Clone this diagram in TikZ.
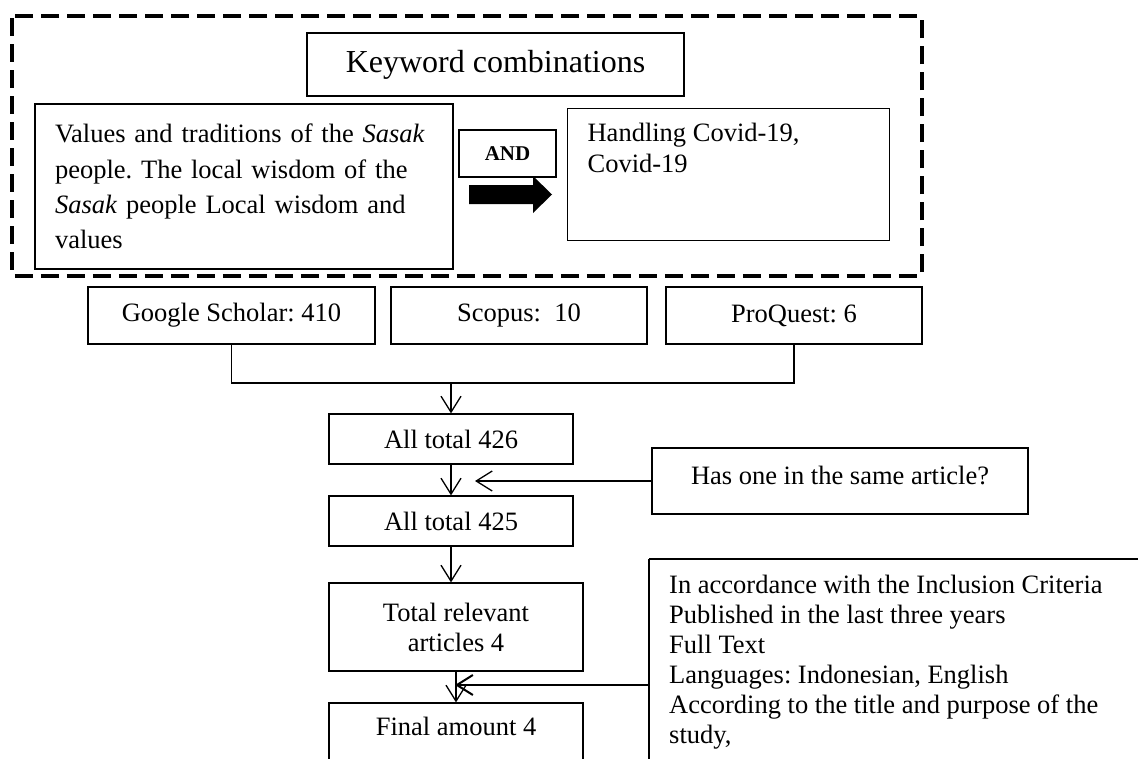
\documentclass[tikz,border=0pt]{standalone}
\usepackage{fontspec}
\setmainfont{Liberation Serif}
\usetikzlibrary{arrows.meta}
\frenchspacing

\begin{document}
\begin{tikzpicture}[x=1pt, y=-1pt,
	cell/.style={draw, line width=1.2pt, inner sep=0pt, font=\fontsize{26.5}{31}\selectfont},
	searchframe/.style={line width=4pt, dash pattern=on 18pt off 8pt, rounded corners=2pt},
	flow/.style={line width=1.3pt},
	arr/.style={flow, -{Straight Barb[length=16pt, width=20pt]}}]
		\fill[white] (0,0) rectangle (1138,758);
		\useasboundingbox (0,0) rectangle (1138,758);
		\clip (0,0) rectangle (1138,758);
		% keyword search
		\draw[searchframe] (12,16) rectangle (922,276);
		\node[cell, minimum width=377pt, minimum height=63pt, font=\fontsize{32}{38}\selectfont] (keywords) at (495.5,64.5) {Keyword combinations};
		\node[cell, text width=378pt, inner xsep=20pt, minimum height=165pt, align=left, font=\fontsize{26.5}{35.3}\selectfont] (values) at (244,186.5) {Values and traditions of the \textit{Sasak}\\ people. The local wisdom of the\\ \textit{Sasak} people Local wisdom and\\ values};
		\node[cell, minimum width=97pt, minimum height=47pt, font=\fontsize{21}{25}\selectfont\bfseries] (andop) at (507.5,153.5) {AND};
		\fill (469,185) -- (533,185) -- (533,176) -- (552,194.5) -- (533,213) -- (533,204) -- (469,204) -- cycle;
		\node[cell, inner xsep=20pt, inner ysep=15pt, anchor=north west] (handling) at (567,108) {\parbox[t][102pt][t]{282pt}{\raggedright Handling Covid-19,\\ Covid-19}};
		% databases
		\node[cell, minimum width=287pt, minimum height=57pt] (google) at (231.5,315.5) {Google Scholar: 410};
		\node[cell, minimum width=256pt, minimum height=57pt] (scopus) at (519,315.5) {Scopus:\ \ 10};
		\node[cell, minimum width=256pt, minimum height=57pt] (proquest) at (794,315.5) {ProQuest: 6};
		\coordinate (merge) at (451,383);
		\draw[flow] (google.south) |- (merge) -| (proquest.south);
		% screening
		\node[cell, minimum width=244pt, minimum height=50pt] (all426) at (451,439) {All total 426};
		\node[cell, minimum width=244pt, minimum height=50pt] (all425) at (451,521) {All total 425};
		\node[cell, minimum width=254pt, minimum height=88pt, align=center, font=\fontsize{26.5}{30}\selectfont] (relevant) at (456,627) {Total relevant\\ articles 4};
		\node[cell, minimum width=254pt, text height=18pt, text depth=40pt, inner ysep=14pt, anchor=base] (final) at (456,735) {Final amount 4};
		\draw[arr] (merge) -- (all426);
		\draw[arr] (all426) -- (all425);
		\draw[arr] (all425.south) -- (all425.south |- relevant.north);
		\draw[arr] (relevant) -- (final);
		% duplicates
		\node[cell, minimum width=376pt, text height=18pt, text depth=12pt, inner ysep=18pt, anchor=base] (hasone) at (840,484) {Has one in the same article?};
		\coordinate (dupjoin) at (475,481);
		\draw[arr] (hasone.west) -- (dupjoin);
		% inclusion criteria
		\coordinate (critcorner) at (649,559);
		\draw[flow] (critcorner) -- ++(500,0) (critcorner) -- ++(0,220);
		\node[anchor=north west, inner sep=0pt, align=left, font=\fontsize{26.5}{30}\selectfont] (criteria) at (669,575) {In accordance with the Inclusion Criteria\\ Published in the last three years\\ Full Text\\ Languages: Indonesian, English\\ According to the title and purpose of the\\ study,};
		\coordinate (critjoin) at (455,685);
		\draw[arr, line width=2pt] (critcorner |- critjoin) -- (critjoin);
	\end{tikzpicture}
\end{document}
